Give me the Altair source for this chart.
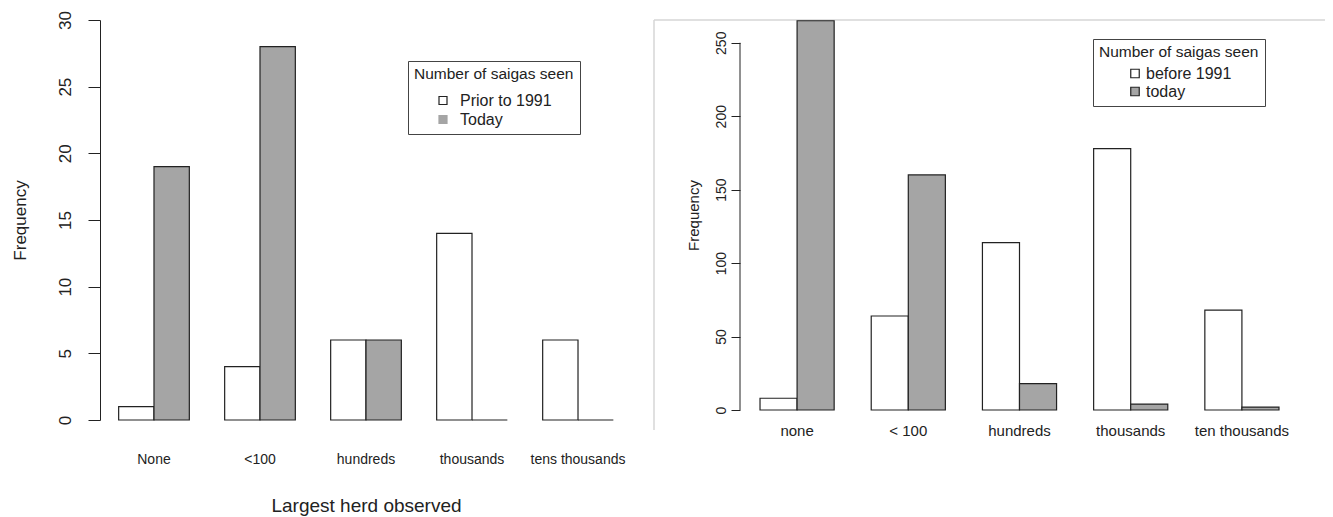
import altair as alt
import pandas as pd

# ---------------- data ----------------
left_categories = ["None", "<100", "hundreds", "thousands", "tens thousands"]
left_series = ["Prior to 1991", "Today"]
left_prior = [1, 4, 6, 14, 6]
left_today = [19, 28, 6, 0, 0]
left_ticks = [0, 5, 10, 15, 20, 25, 30]

right_categories = ["none", "< 100", "hundreds", "thousands", "ten thousands"]
right_series = ["before 1991", "today"]
right_before = [8, 64, 114, 178, 68]
right_today = [265, 160, 18, 4, 2]
right_ticks = [0, 50, 100, 150, 200, 250]

FONT = "Liberation Sans"
INK = "#222222"
GREY = "#a5a5a5"


def table(cats, series, first, second):
    rows = []
    for c, a, b in zip(cats, first, second):
        rows.append({"cat": c, "series": series[0], "value": a})
        rows.append({"cat": c, "series": series[1], "value": b})
    return pd.DataFrame(rows)


# ---------------- left panel ----------------
ldf = table(left_categories, left_series, left_prior, left_today)

lx = alt.X("cat:N", sort=left_categories, title="Largest herd observed",
           scale=alt.Scale(paddingInner=1 / 3, paddingOuter=0.176),
           axis=alt.Axis(domain=False, ticks=False, labelAngle=0, labelFontSize=14,
                         labelPadding=32, titleFontSize=19, titlePadding=30,
                         labelColor=INK, titleColor=INK, labelFont=FONT, titleFont=FONT,
                         titleFontWeight="normal"))
lxo = alt.XOffset("series:N", sort=left_series,
                  scale=alt.Scale(domain=left_series, paddingInner=0, paddingOuter=0))
ly = alt.Y("value:Q", title="Frequency",
           scale=alt.Scale(domain=[min(left_ticks), max(left_ticks)], nice=False),
           axis=alt.Axis(values=left_ticks, grid=False, domainColor=INK, tickColor=INK,
                         tickSize=12, labelAngle=-90, labelAlign="center",
                         labelBaseline="alphabetic", labelPadding=18, labelFontSize=17,
                         titleFontSize=17, titlePadding=27, labelColor=INK, titleColor=INK,
                         labelFont=FONT, titleFont=FONT, titleFontWeight="normal"))
lfill_scale = alt.Scale(domain=left_series, range=["white", GREY])
lstroke_scale = alt.Scale(domain=left_series, range=[INK, GREY])
left_legend = alt.Legend(orient="none", legendX=308, legendY=41,
                         title="Number of saigas seen", titleFontSize=15.5, labelFontSize=16,
                         titleFont=FONT, labelFont=FONT, titleFontWeight="normal",
                         titleColor=INK, labelColor=INK, symbolType="square", symbolSize=64,
                         symbolStrokeWidth=1.2, symbolOffset=21, labelOffset=9,
                         padding=6, rowPadding=3, titlePadding=10, strokeColor="#444444")

left_bars = alt.Chart(ldf).mark_bar(stroke=INK, strokeWidth=1.2).encode(
    x=lx, xOffset=lxo, y=ly,
    fill=alt.Fill("series:N", scale=lfill_scale, legend=left_legend))
left_key = alt.Chart(ldf).mark_point(shape="square", filled=True, opacity=0).encode(
    x=lx, xOffset=lxo, y=ly,
    fill=alt.Fill("series:N", scale=lfill_scale, legend=left_legend),
    stroke=alt.Stroke("series:N", scale=lstroke_scale, legend=left_legend))
left = alt.layer(left_bars, left_key).properties(width=532, height=400)

# ---------------- right panel ----------------
rdf = table(right_categories, right_series, right_before, right_today)
raxis_df = pd.DataFrame({"lo": [min(right_ticks)], "hi": [max(right_ticks)]})

rx = alt.X("cat:N", sort=right_categories, title=None,
           scale=alt.Scale(paddingInner=1 / 3, paddingOuter=0.18),
           axis=alt.Axis(domain=False, ticks=False, labelAngle=0, labelFontSize=15,
                         labelPadding=13, labelColor=INK, labelFont=FONT))
rxo = alt.XOffset("series:N", sort=right_series,
                  scale=alt.Scale(domain=right_series, paddingInner=0, paddingOuter=0))
ry_scale = alt.Scale(domain=[0, 265.5], nice=False)
ry = alt.Y("value:Q", title="Frequency", scale=ry_scale,
           axis=alt.Axis(values=right_ticks, grid=False, domain=False, tickColor=INK,
                         tickSize=9, labelAngle=-90, labelAlign="center",
                         labelBaseline="alphabetic", labelPadding=6, labelFontSize=14,
                         titleFontSize=15, titlePadding=13, labelColor=INK, titleColor=INK,
                         labelFont=FONT, titleFont=FONT, titleFontWeight="normal"))
rfill_scale = alt.Scale(domain=right_series, range=["white", GREY])
rstroke_scale = alt.Scale(domain=right_series, range=[INK, INK])
right_legend = alt.Legend(orient="none", legendX=353, legendY=19,
                          title="Number of saigas seen", titleFontSize=15.5, labelFontSize=16,
                          titleFont=FONT, labelFont=FONT, titleFontWeight="normal",
                          titleColor=INK, labelColor=INK, symbolType="square", symbolSize=72,
                          symbolStrokeWidth=1.2, symbolOffset=28, labelOffset=3,
                          padding=6, rowPadding=2, titlePadding=5, strokeColor="#444444")

right_bars = alt.Chart(rdf).mark_bar(stroke=INK, strokeWidth=1.2).encode(
    x=rx, xOffset=rxo, y=ry,
    fill=alt.Fill("series:N", scale=rfill_scale, legend=right_legend))
right_key = alt.Chart(rdf).mark_point(shape="square", filled=True, opacity=0).encode(
    x=rx, xOffset=rxo, y=ry,
    fill=alt.Fill("series:N", scale=rfill_scale, legend=right_legend),
    stroke=alt.Stroke("series:N", scale=rstroke_scale, legend=right_legend))
right_axis_line = alt.Chart(raxis_df).mark_rule(color=INK, strokeWidth=1).encode(
    x=alt.value(0), y=alt.Y("lo:Q", scale=ry_scale), y2="hi:Q")
frame_left = alt.Chart(raxis_df).mark_rule(color="#d6d6d6", strokeWidth=1.5).encode(
    x=alt.value(-86), y=alt.value(0), y2=alt.value(410))
frame_top = alt.Chart(raxis_df).mark_rule(color="#d6d6d6", strokeWidth=1.5).encode(
    x=alt.value(-86), x2=alt.value(585), y=alt.value(0))
right = alt.layer(frame_left, frame_top, right_bars, right_key, right_axis_line).properties(
    width=559, height=390)

chart = alt.hconcat(left, right, spacing=108, bounds="flush").resolve_scale(
    x="independent", y="independent", fill="independent", stroke="independent",
    xOffset="independent"
).resolve_legend(fill="independent", stroke="independent").properties(
    autosize=alt.AutoSizeParams(type="none"),
    padding={"left": 92, "top": 12, "right": 1225, "bottom": 496},
).configure(font=FONT).configure_view(stroke="transparent", strokeWidth=0)

chart.save("out.html", embed_options={"renderer": "svg", "actions": False})
